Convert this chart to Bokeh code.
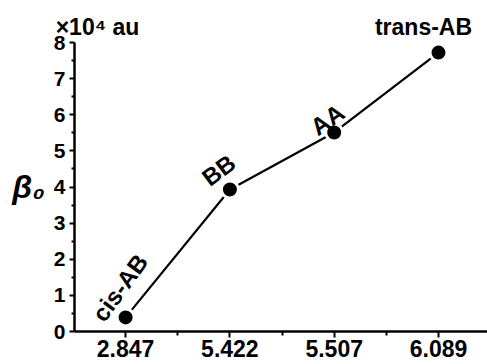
from bokeh.plotting import figure
from bokeh.models import FixedTicker, Label, Range1d, LinearAxis
from bokeh.embed import file_html
from bokeh.resources import INLINE

# ---- data ----
categories = ["cis-AB", "BB", "AA", "trans-AB"]
x_labels = ["2.847", "5.422", "5.507", "6.089"]
beta_values = [0.39, 3.93, 5.51, 7.72]
y_ticks = [0, 1, 2, 3, 4, 5, 6, 7, 8]
y_minor = [0.5, 1.5, 2.5, 3.5, 4.5, 5.5, 6.5, 7.5]
unit_text = "×10⁴ au"
y_title = "β₀"

xs = list(range(len(categories)))
x_minor = [i + 0.5 for i in range(-1, len(categories))]

FONT = "Liberation Sans"

p = figure(width=487, height=364, output_backend="svg", toolbar_location=None,
           x_range=Range1d(-0.49, 3.47), y_range=Range1d(0, 8),
           min_border_left=74, min_border_right=0, min_border_top=42,
           min_border_bottom=33)
p.outline_line_color = None
p.grid.visible = False
p.background_fill_color = "white"
p.border_fill_color = "white"

p.line(xs, beta_values, line_color="black", line_width=2.2)
p.scatter(xs, beta_values, size=17, fill_color="black", line_color="white",
          line_width=3)

for ax in (p.xaxis[0], p.yaxis[0]):
    ax.axis_line_width = 2.5
    ax.axis_line_color = "black"
    ax.major_tick_line_width = 2
    ax.minor_tick_line_width = 2
    ax.major_tick_in = 0
    ax.minor_tick_in = 0
    ax.major_label_text_font = FONT
    ax.major_label_text_font_style = "bold"
    ax.major_label_text_color = "black"

xa = p.xaxis[0]
xa.ticker = FixedTicker(ticks=xs, minor_ticks=x_minor)
xa.major_label_overrides = {i: lab for i, lab in enumerate(x_labels)}
xa.major_tick_out = 6
xa.minor_tick_out = 4
xa.major_label_text_font_size = "23px"
xa.major_label_standoff = 2

ya = p.yaxis[0]
ya.ticker = FixedTicker(ticks=y_ticks, minor_ticks=y_minor)
ya.major_tick_out = 5
ya.minor_tick_out = 3
ya.major_label_text_font_size = "21px"
ya.major_label_standoff = 4
ya.axis_label = y_title
ya.axis_label_orientation = "horizontal"
ya.axis_label_text_font = FONT
ya.axis_label_text_font_style = "bold italic"
ya.axis_label_text_font_size = "32px"
ya.axis_label_text_color = "black"
ya.axis_label_standoff = 6

# texts above the frame, placed as labels of a bare top axis (pixel range)
p.extra_x_ranges = {"top_px": Range1d(0, 413)}
top = LinearAxis(x_range_name="top_px",
                 ticker=FixedTicker(ticks=[23, 349], minor_ticks=[]),
                 major_label_overrides={23: unit_text, 349: categories[-1]})
top.axis_line_color = None
top.major_tick_line_color = None
top.minor_tick_line_color = None
top.major_tick_out = 0
top.major_label_standoff = 3
top.major_label_text_font = FONT
top.major_label_text_font_style = "bold"
top.major_label_text_font_size = "23px"
top.major_label_text_color = "black"
p.add_layout(top, "above")

# rotated point labels inside the frame: (angle, x_offset, y_offset)
label_style = {
    "cis-AB": (54, -28, -1),
    "BB": (37, -25, 9),
    "AA": (35, -21, 3),
}
for x, v, name in zip(xs, beta_values, categories):
    if name not in label_style:
        continue
    ang, dx, dy = label_style[name]
    p.add_layout(Label(x=x, y=v, text=name, angle=ang, angle_units="deg",
                       x_offset=dx, y_offset=dy, text_align="left",
                       text_baseline="alphabetic", text_font=FONT,
                       text_font_style="bold", text_font_size="24px",
                       text_color="black"))

open("out.html", "w").write(file_html(p, INLINE))
